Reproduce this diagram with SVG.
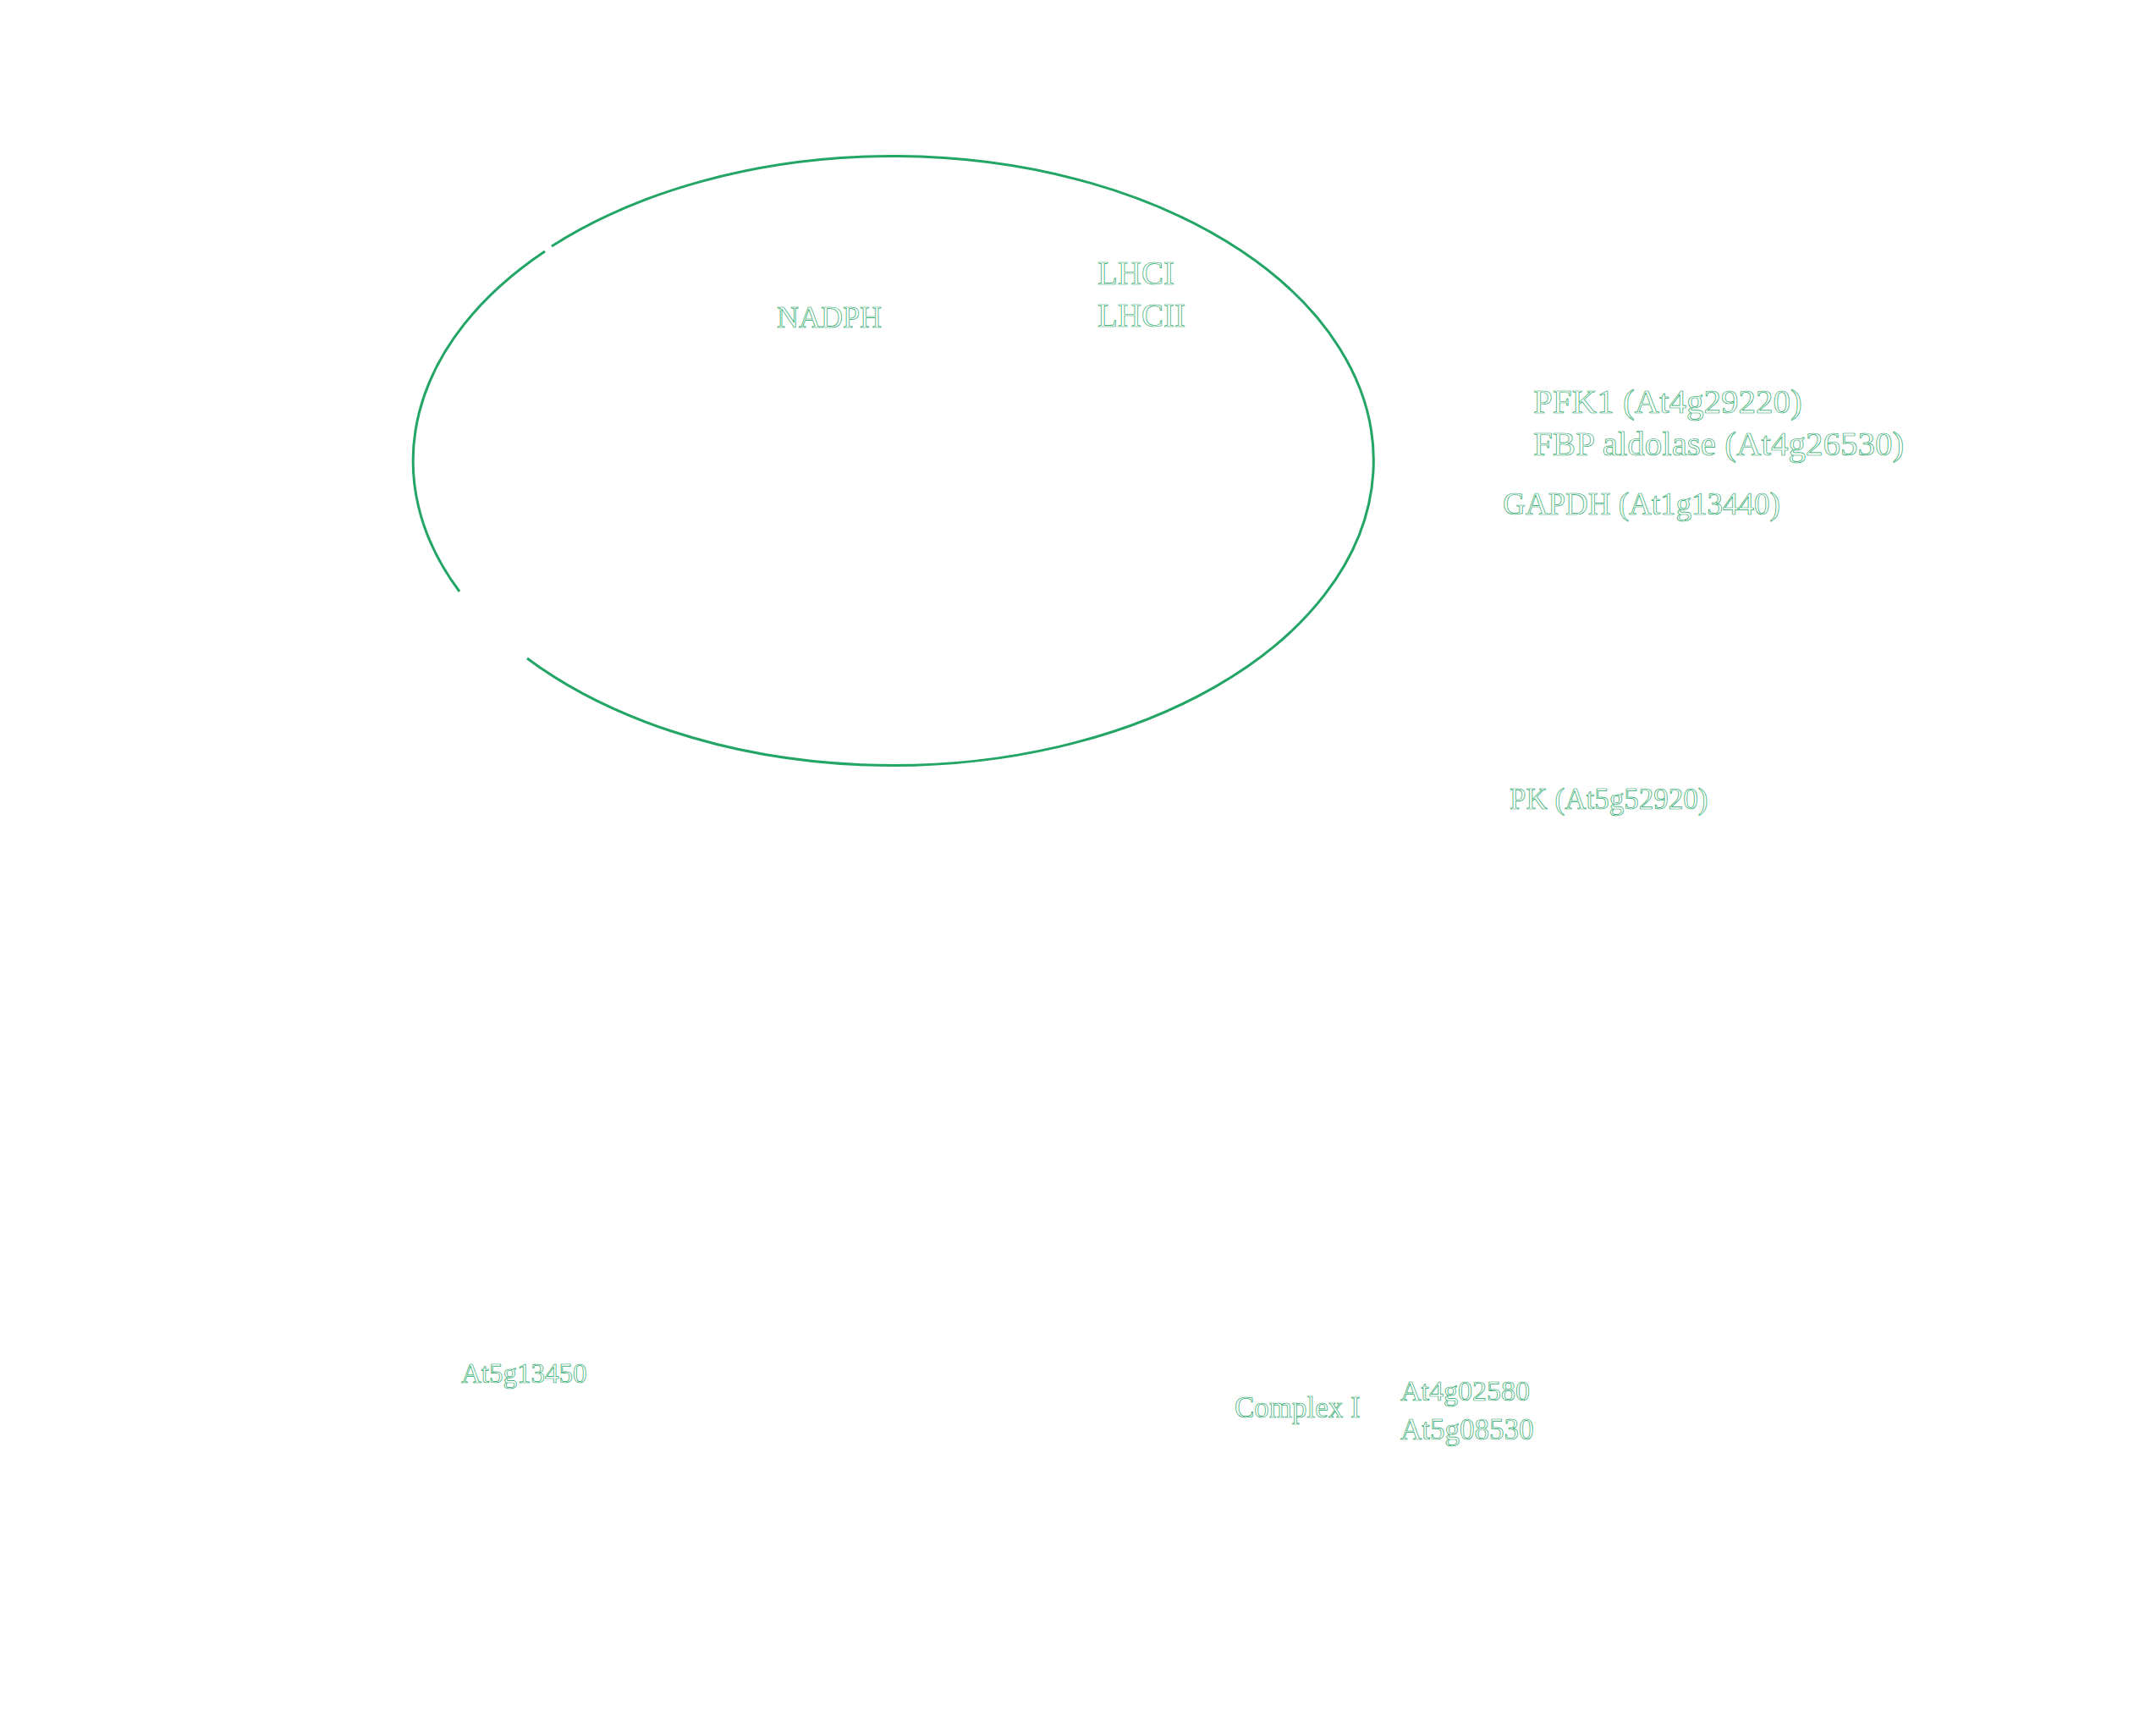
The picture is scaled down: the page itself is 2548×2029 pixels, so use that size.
<svg xmlns="http://www.w3.org/2000/svg" width="2548" height="2029" viewBox="0 0 2548 2029">
<style>
.lbl{font-family:"Liberation Serif","Times New Roman",serif;fill:#ffffff;stroke:#22a565;stroke-width:0.7}
.mem{fill:none;stroke:#22a565;stroke-width:3}
</style>
<rect width="2548" height="2029" fill="#ffffff"/>
<g id="chloroplast">
<path class="mem" d="M 623 778 A 568 360 0 1 0 652 291"/>
<path class="mem" d="M 644 297 A 568 360 0 0 0 543 699"/>
</g>
<g id="connectors"></g>
<g id="node-nadph"><text class="lbl" x="918" y="387" font-size="36">NADPH</text></g>
<g id="node-lhc">
<text class="lbl" x="1297" y="336" font-size="39">LHCI</text>
<text class="lbl" x="1297" y="386" font-size="39">LHCII</text>
</g>
<g id="node-glycolysis">
<text class="lbl" x="1812" y="488" font-size="41">PFK1 (At4g29220)</text>
<text class="lbl" x="1812" y="538" font-size="41">FBP aldolase (At4g26530)</text>
</g>
<g id="node-gapdh"><text class="lbl" x="1776" y="608" font-size="37">GAPDH (At1g13440)</text></g>
<g id="node-pk"><text class="lbl" x="1784" y="956" font-size="35">PK (At5g52920)</text></g>
<g id="node-at5g13450"><text class="lbl" x="545" y="1634" font-size="33">At5g13450</text></g>
<g id="node-complex1">
<text class="lbl" x="1459" y="1675" font-size="35">Complex I</text>
<text class="lbl" x="1655" y="1655" font-size="34">At4g02580</text>
<text class="lbl" x="1655" y="1701" font-size="35">At5g08530</text>
</g>
</svg>
